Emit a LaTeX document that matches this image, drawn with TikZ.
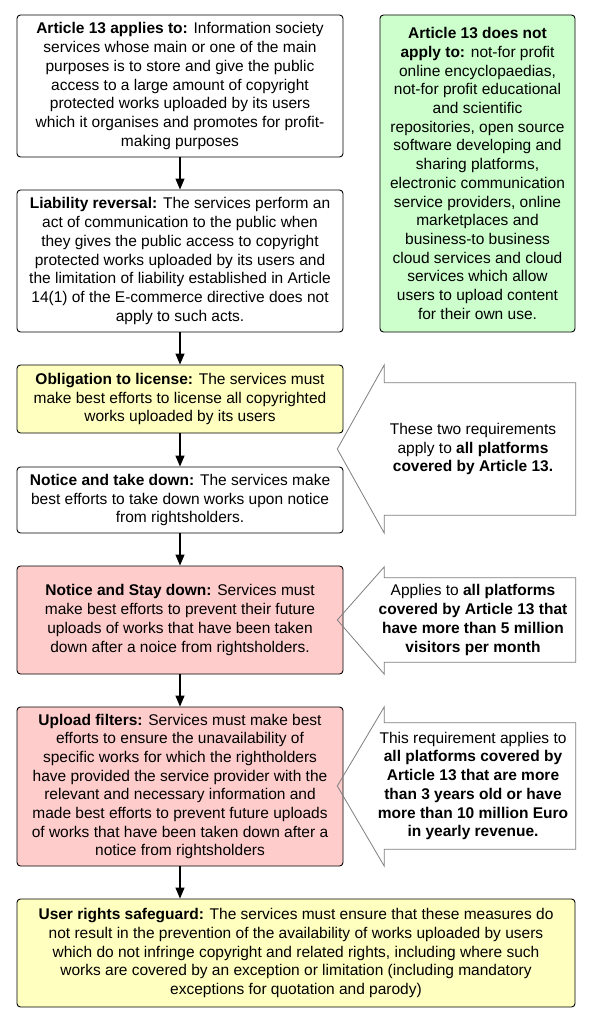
\documentclass[tikz,border=0pt]{standalone}
\usepackage{fontspec}
\setmainfont{Liberation Sans}
\usepackage{xcolor}
\usetikzlibrary{arrows.meta,positioning}

\definecolor{boxyellow}{HTML}{FFFFC0}
\definecolor{boxgreen}{HTML}{CCFFCC}
\definecolor{boxred}{HTML}{FFCCCC}
\definecolor{calloutgray}{HTML}{7F7F7F}

\begin{document}
\begin{tikzpicture}[x=1pt,y=-1pt,
  stepbox/.style={draw=black, rounded corners=3.5pt, line width=0.9pt, align=center,
    inner sep=0pt, font=\fontsize{15.5}{18.7}\selectfont, minimum width=326pt},
  calltext/.style={align=center, inner sep=0pt, minimum width=205pt,
    font=\fontsize{15.5}{18.7}\selectfont},
  callout/.style={draw=calloutgray, line width=0.8pt},
  flow/.style={-{Triangle[width=9pt,length=11pt]}, line width=1.2pt}]

\fill[white] (0,0) rectangle (592,1024);
\useasboundingbox (0,0) rectangle (592,1024);

% main chain
\node[stepbox, minimum height=142pt] (applies) at (180,86)
  {\textbf{Article 13 applies to:} Information society\\ services whose main or one of the main\\
   purposes is to store and give the public\\ access to a large amount of copyright\\
   protected works uploaded by its users\\ which it organises and promotes for profit-\\
   making purposes};
\node[stepbox, minimum height=142pt] (liability) at (180,261)
  {\textbf{Liability reversal:} The services perform an\\ act of communication to the public when\\
   they gives the public access to copyright\\ protected works uploaded by its users and\\
   the limitation of liability established in Article\\ 14(1) of the E-commerce directive does not\\
   apply to such acts.};
\node[stepbox, fill=boxyellow, minimum height=68pt] (license) at (180,399)
  {\textbf{Obligation to license:} The services must\\ make best efforts to license all copyrighted\\
   works uploaded by its users};
\node[stepbox, minimum height=66pt] (takedown) at (180,500)
  {\textbf{Notice and take down:} The services make\\ best efforts to take down works upon notice\\
   from rightsholders.};
\node[stepbox, fill=boxred, minimum height=108pt] (staydown) at (180,620)
  {\textbf{Notice and Stay down:} Services must\\ make best efforts to prevent their future\\
   uploads of works that have been taken\\ down after a noice from rightsholders.};
\node[stepbox, fill=boxred, minimum height=159pt] (filters) at (180,786.5)
  {\textbf{Upload filters:} Services must make best\\ efforts to ensure the unavailability of\\
   specific works for which the rightholders\\ have provided the service provider with the\\
   relevant and necessary information and\\ made best efforts to prevent future uploads\\
   of works that have been taken down after a\\ notice from rightsholders};
\node[stepbox, fill=boxyellow, minimum width=558pt, minimum height=108pt] (safeguard) at (296,953)
  {\textbf{User rights safeguard:} The services must ensure that these measures do\\
   not result in the prevention of the availability of works uploaded by users\\
   which do not infringe copyright and related rights, including where such\\
   works are covered by an exception or limitation (including mandatory\\
   exceptions for quotation and parody)};

% exclusions
\node[stepbox, fill=boxgreen, minimum width=195pt, minimum height=317pt] (notapply) at (477.5,173.5)
  {\textbf{Article 13 does not}\\ \textbf{apply to:} not-for profit\\ online encyclopaedias,\\
   not-for profit educational\\ and scientific\\ repositories, open source\\
   software developing and\\ sharing platforms,\\ electronic communication\\
   service providers, online\\ marketplaces and\\ business-to business\\
   cloud services and cloud\\ services which allow\\ users to upload content\\ for their own use.};

\draw[flow] (applies) -- (liability);
\draw[flow] (liability) -- (license);
\draw[flow] (license) -- (takedown);
\draw[flow] (takedown) -- (staydown);
\draw[flow] (staydown) -- (filters);
\draw[flow] (filters.south) -- (filters.south |- safeguard.north);

% callouts
\node[calltext, minimum height=132pt] (allreq) at (473,449)
  {These two requirements\\ apply to \textbf{all platforms}\\ \textbf{covered by Article 13.}};
\node[calltext, minimum height=84pt] (bigreq) at (473,620)
  {Applies to \textbf{all platforms}\\ \textbf{covered by Article 13 that}\\
   \textbf{have more than 5 million}\\ \textbf{visitors per month}};
\node[calltext, minimum height=126pt] (oldreq) at (473,786)
  {This requirement applies to\\ \textbf{all platforms covered by}\\ \textbf{Article 13 that are more}\\
   \textbf{than 3 years old or have}\\ \textbf{more than 10 million Euro}\\ \textbf{in yearly revenue.}};

\draw[callout] (allreq.north east) -- ([xshift=14pt]allreq.north west)
  -- ([xshift=14pt,yshift=18pt]allreq.north west) -- ([xshift=-33pt]allreq.west)
  -- ([xshift=14pt,yshift=-18pt]allreq.south west) -- ([xshift=14pt]allreq.south west)
  -- (allreq.south east) -- cycle;
\draw[callout] (bigreq.north east) -- ([xshift=14pt]bigreq.north west)
  -- ([xshift=14pt,yshift=11pt]bigreq.north west) -- ([xshift=-33pt]bigreq.west)
  -- ([xshift=14pt,yshift=-12pt]bigreq.south west) -- ([xshift=14pt]bigreq.south west)
  -- (bigreq.south east) -- cycle;
\draw[callout] (oldreq.north east) -- ([xshift=14pt]oldreq.north west)
  -- ([xshift=14pt,yshift=16pt]oldreq.north west) -- ([xshift=-33pt]oldreq.west)
  -- ([xshift=14pt,yshift=-17pt]oldreq.south west) -- ([xshift=14pt]oldreq.south west)
  -- (oldreq.south east) -- cycle;
\end{tikzpicture}
\end{document}
